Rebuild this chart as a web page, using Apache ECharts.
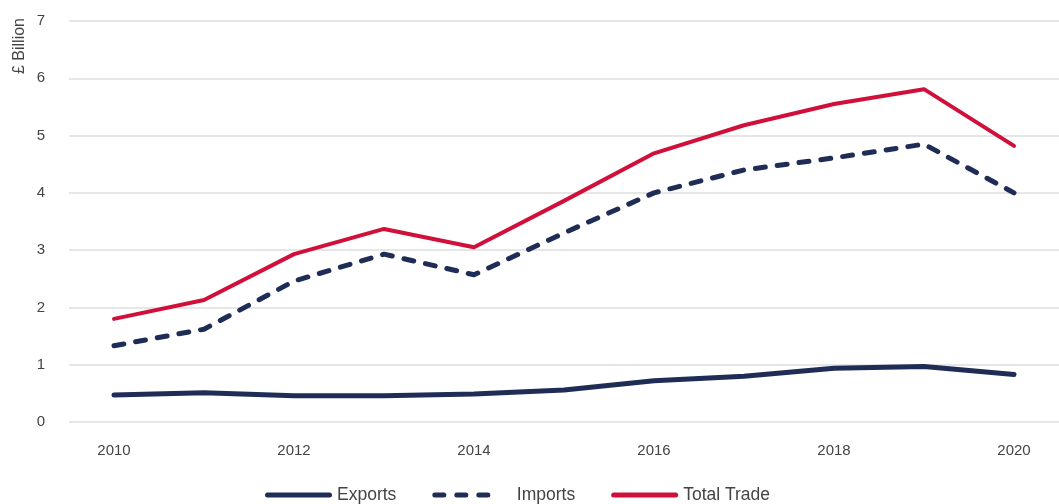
<!DOCTYPE html>
<html><head><meta charset="utf-8">
<script src="https://cdn.jsdelivr.net/npm/echarts@6/dist/echarts.min.js"></script>
<style>html,body{margin:0;padding:0;background:#fff}#c{width:1059px;height:504px}</style>
</head><body><div id="c"></div>
<script>
var years = ['2010','2011','2012','2013','2014','2015','2016','2017','2018','2019','2020'];
var exportsData = [0.47,0.51,0.46,0.46,0.49,0.56,0.72,0.80,0.94,0.97,0.83];
var importsData = [1.33,1.62,2.46,2.93,2.57,3.30,4.00,4.40,4.61,4.85,4.00];
var totalData = [1.80,2.13,2.93,3.37,3.05,3.86,4.69,5.18,5.55,5.81,4.82];
var yTicks = [0,1,2,3,4,5,6,7];

var navy = '#1f2d56', red = '#d0103a';
var FONT = '"Liberation Sans", Arial, sans-serif';
var solidIcon = 'path://M2.5,0 H64.5 A2.5,2.5 0 0 1 64.5,5 H2.5 A2.5,2.5 0 0 1 2.5,0 Z';
var dashIcon = 'path://M2.5,0 H11.5 A2.5,2.5 0 0 1 11.5,5 H2.5 A2.5,2.5 0 0 1 2.5,0 Z' +
  ' M24.5,0 H33.5 A2.5,2.5 0 0 1 33.5,5 H24.5 A2.5,2.5 0 0 1 24.5,0 Z' +
  ' M46.5,0 H55.5 A2.5,2.5 0 0 1 55.5,5 H46.5 A2.5,2.5 0 0 1 46.5,0 Z';
var chart = echarts.init(document.getElementById('c'));
chart.setOption({
  animation: false,
  grid: {left: 69, right: 0, top: 21, bottom: 82},
  graphic: [{type:'text', x: 20, y: 46, rotation: Math.PI/2,
    style: {text: '£ Billion', fill: '#444', font: '16px ' + FONT, align: 'center', verticalAlign: 'middle'}}],
  legend: {
    left: 265, top: 486, padding: 0, itemWidth: 67, itemHeight: 5, itemGap: 36,
    textStyle: {color: '#444', fontSize: 17.5, fontFamily: FONT},
    data: [
      {name: 'Exports', icon: solidIcon, itemStyle: {color: navy}},
      {name: 'Imports', icon: dashIcon, itemStyle: {color: navy}, textStyle: {width: 70, padding: [0,0,0,17]}},
      {name: 'Total Trade', icon: solidIcon, itemStyle: {color: red}}
    ]
  },
  xAxis: {
    type: 'category', data: years, boundaryGap: true,
    axisLine: {show: false}, axisTick: {show: false},
    axisLabel: {interval: 1, color: '#444', fontSize: 15, margin: 21, fontFamily: FONT}
  },
  yAxis: {
    type: 'value', min: 0, max: 7, interval: 1,
    axisLine: {show: false}, axisTick: {show: false},
    axisLabel: {color: '#444', fontSize: 15, margin: 24, fontFamily: FONT,
      formatter: function(v){ return yTicks.indexOf(v) >= 0 ? String(v) : ''; }},
    splitLine: {lineStyle: {color: '#dedede', width: 1.5}}
  },
  series: [
    {name: 'Exports', type: 'line', data: exportsData, symbol: 'none',
      lineStyle: {color: navy, width: 5, cap: 'round', join: 'round'}, itemStyle: {color: navy}},
    {name: 'Imports', type: 'line', data: importsData, symbol: 'none',
      lineStyle: {color: navy, width: 5, type: [10, 12], cap: 'round', join: 'round'}, itemStyle: {color: navy}},
    {name: 'Total Trade', type: 'line', data: totalData, symbol: 'none',
      lineStyle: {color: red, width: 4, cap: 'round', join: 'round'}, itemStyle: {color: red}}
  ]
});
</script></body></html>
